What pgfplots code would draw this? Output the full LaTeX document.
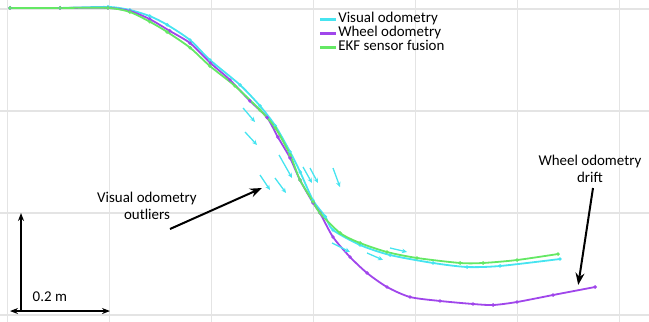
\documentclass[border=0pt]{standalone}
\usepackage{pgfplots}
\pgfplotsset{compat=1.18}
\usepackage{pgfplotstable}
\usepackage{fontspec}
\setmainfont{Carlito}
\usetikzlibrary{arrows.meta}

\definecolor{visodo}{RGB}{70,228,240}
\definecolor{wheelodo}{RGB}{160,70,235}
\definecolor{ekf}{RGB}{100,232,100}
\definecolor{gridgray}{RGB}{228,228,228}

% trajectories in metres (x forward, y lateral)
\pgfplotstableread{
x y
0.005 0.602
0.103 0.602
0.197 0.602
0.240 0.596
0.279 0.580
0.318 0.557
0.358 0.533
0.398 0.494
0.436 0.461
0.475 0.420
0.509 0.387
0.530 0.349
0.554 0.308
0.5735 0.2647
0.599 0.220
0.6127 0.2000
0.6382 0.1529
0.6716 0.1137
0.7049 0.0824
0.7441 0.0549
0.7892 0.0353
0.8480 0.0275
0.9127 0.0216
0.9520 0.0196
0.9990 0.0255
1.0696 0.0392
1.1520 0.0549
}\wheel

\pgfplotstableread{
x y
0.005 0.602
0.103 0.602
0.197 0.602
0.240 0.594
0.279 0.575
0.313 0.555
0.358 0.524
0.397 0.488
0.446 0.449
0.495 0.402
0.525 0.367
0.554 0.314
0.5735 0.2647
0.599 0.222
0.6127 0.2000
0.652 0.1608
0.6912 0.1412
0.7441 0.1235
0.8029 0.1118
0.8873 0.1020
0.9324 0.1020
0.9990 0.1078
1.0794 0.1196
}\ekf

\pgfplotstableread{
x y
0.005 0.602
0.103 0.602
0.197 0.604
0.240 0.598
0.279 0.586
0.313 0.569
0.358 0.539
0.397 0.500
0.456 0.451
0.495 0.410
0.525 0.371
0.554 0.320
0.574 0.280
0.599 0.225
0.623 0.193
0.6382 0.1667
0.6912 0.1373
0.7500 0.1176
0.8343 0.1020
0.9010 0.0941
0.9657 0.0961
1.0833 0.1098
}\visual

% isolated visual odometry poses (position and heading vector)
\pgfplotstableread{
x y u v
0.4618 0.4059 0.0235 -0.0275
0.4657 0.3588 0.0235 -0.0255
0.5324 0.3137 0.0255 -0.0451
0.4951 0.2745 0.0196 -0.0294
0.5245 0.2686 0.0216 -0.0294
0.5794 0.2902 0.0176 -0.0314
0.5931 0.2882 0.0157 -0.0294
0.6382 0.2882 0.0137 -0.0373
0.6363 0.1412 0.0353 -0.0176
0.7049 0.1216 0.0314 -0.0137
0.7500 0.1314 0.0333 -0.0078
}\outliers

\begin{document}
\begin{tikzpicture}
\begin{axis}[
  scale only axis,
  width=649bp, height=322bp,
  xmin=-0.0147, xmax=1.2578,
  ymin=-0.0137, ymax=0.6176,
  xtick={0,0.2,...,1.2}, ytick={0,0.2,0.4,0.6},
  xticklabels={}, yticklabels={},
  major tick length=0pt,
  grid=major,
  major grid style={gridgray, line width=1.3bp},
  axis line style={draw=none},
  clip=false,
  legend cell align=left,
  legend style={
    at={(axis cs:0.610,0.594)}, anchor=north west,
    draw=none, fill=none,
    font=\fontsize{15}{15}\selectfont,
    inner sep=0pt, row sep=0pt,
    nodes={inner sep=0.5bp, text height=10bp, text depth=3bp},
  },
  legend image code/.code={
    \draw[#1, line width=3bp] (0bp,0bp) -- (16bp,0bp);
  },
]
\addplot[visodo, line width=1.8bp, smooth, tension=0.45, mark=*, mark size=0.7bp,
  mark options={fill=visodo!80!black, draw=none}] table {\visual};
\addlegendentry{Visual odometry}
\addplot[wheelodo, line width=1.8bp, smooth, tension=0.45, mark=*, mark size=0.7bp,
  mark options={fill=wheelodo!80!black, draw=none}] table {\wheel};
\addlegendentry{Wheel odometry}
\addplot[ekf, line width=1.8bp, smooth, tension=0.45, mark=*, mark size=0.7bp,
  mark options={fill=ekf!75!black, draw=none}] table {\ekf};
\addlegendentry{ EKF sensor fusion}

\addplot[visodo, line width=1.3bp, -{Stealth[length=5bp,width=4.5bp]},
  quiver={u=\thisrow{u}, v=\thisrow{v}}, forget plot] table {\outliers};

% annotations
\node[font=\fontsize{15}{17}\selectfont, align=center]
  at (axis cs:0.2735,0.2137) {Visual odometry\\outliers};
\draw[line width=2bp, -{Stealth[length=12bp,width=9bp]}]
  (axis cs:0.3186,0.1686) -- (axis cs:0.499,0.249);
\node[font=\fontsize{15}{17}\selectfont, align=center]
  at (axis cs:1.142,0.286) {Wheel odometry\\drift};
\draw[line width=2bp, -{Stealth[length=12bp,width=9bp]}]
  (axis cs:1.148,0.249) -- (axis cs:1.119,0.059);

% scale bar
\draw[line width=1.6bp, -{Stealth[length=8bp,width=6bp]}]
  (axis cs:0.0265,0.0078) -- (axis cs:0.0265,0.2);
\draw[line width=1.6bp, {Stealth[length=8bp,width=6bp]}-{Stealth[length=8bp,width=6bp]}]
  (axis cs:0.0049,0.0078) -- (axis cs:0.201,0.0078);
\node[font=\fontsize{15}{17}\selectfont] at (axis cs:0.083,0.035) {0.2 m};
\end{axis}
\pgfresetboundingbox
\path (current axis.south west) rectangle (current axis.north east);
\end{tikzpicture}
\end{document}
